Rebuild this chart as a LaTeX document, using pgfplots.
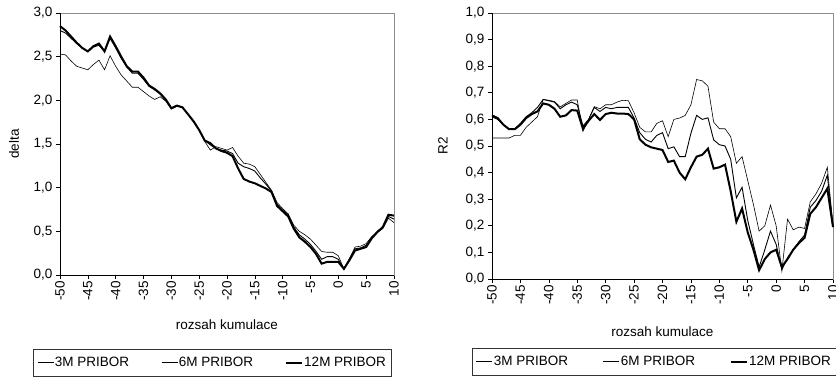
\documentclass[border=0pt]{standalone}
\usepackage{fontspec}
\setmainfont{Liberation Sans}
\usepackage{pgfplots}
\pgfplotsset{compat=1.18}
\usepackage{pgfplotstable}

\pgfplotstableread{
x a b c
-50 2.53 2.80 2.85
-49 2.52 2.77 2.80
-48 2.45 2.71 2.73
-47 2.39 2.65 2.66
-46 2.37 2.60 2.60
-45 2.35 2.56 2.56
-44 2.41 2.61 2.62
-43 2.46 2.63 2.65
-42 2.35 2.56 2.56
-41 2.51 2.71 2.73
-40 2.39 2.60 2.62
-39 2.29 2.48 2.50
-38 2.22 2.38 2.39
-37 2.15 2.31 2.33
-36 2.15 2.31 2.33
-35 2.10 2.24 2.26
-34 2.05 2.16 2.17
-33 2.01 2.12 2.13
-32 2.04 2.07 2.08
-31 1.99 2.00 2.01
-30 1.90 1.91 1.91
-29 1.93 1.94 1.94
-28 1.92 1.92 1.92
-27 1.84 1.84 1.84
-26 1.75 1.76 1.76
-25 1.66 1.66 1.66
-24 1.53 1.54 1.54
-23 1.43 1.49 1.51
-22 1.47 1.45 1.45
-21 1.45 1.43 1.42
-20 1.43 1.42 1.40
-19 1.46 1.39 1.36
-18 1.36 1.28 1.22
-17 1.28 1.24 1.10
-16 1.27 1.22 1.07
-15 1.24 1.19 1.05
-14 1.15 1.11 1.02
-13 1.06 1.04 0.99
-12 0.97 0.96 0.95
-11 0.83 0.81 0.79
-10 0.76 0.74 0.73
-9 0.70 0.69 0.67
-8 0.57 0.55 0.53
-7 0.50 0.46 0.43
-6 0.46 0.41 0.38
-5 0.41 0.35 0.32
-4 0.34 0.27 0.24
-3 0.27 0.18 0.13
-2 0.26 0.21 0.15
-1 0.26 0.21 0.15
0 0.22 0.18 0.15
1 0.07 0.07 0.07
2 0.19 0.18 0.17
3 0.32 0.30 0.28
4 0.33 0.31 0.30
5 0.36 0.34 0.32
6 0.44 0.43 0.42
7 0.49 0.50 0.49
8 0.53 0.55 0.55
9 0.65 0.67 0.69
10 0.60 0.64 0.68
}\deltatab

\pgfplotstableread{
x a b c
-50 0.530 0.610 0.615
-49 0.530 0.600 0.605
-48 0.530 0.580 0.580
-47 0.530 0.565 0.563
-46 0.540 0.565 0.563
-45 0.540 0.585 0.580
-44 0.570 0.610 0.605
-43 0.590 0.625 0.620
-42 0.610 0.645 0.630
-41 0.675 0.675 0.660
-40 0.672 0.670 0.655
-39 0.667 0.665 0.640
-38 0.647 0.640 0.610
-37 0.660 0.655 0.615
-36 0.673 0.665 0.635
-35 0.673 0.655 0.633
-34 0.555 0.575 0.565
-33 0.600 0.600 0.595
-32 0.648 0.645 0.620
-31 0.640 0.630 0.598
-30 0.655 0.645 0.620
-29 0.655 0.640 0.625
-28 0.665 0.645 0.622
-27 0.672 0.645 0.622
-26 0.670 0.645 0.620
-25 0.625 0.605 0.600
-24 0.570 0.550 0.525
-23 0.553 0.525 0.505
-22 0.553 0.515 0.495
-21 0.585 0.540 0.490
-20 0.595 0.550 0.485
-19 0.535 0.490 0.440
-18 0.600 0.497 0.445
-17 0.605 0.460 0.400
-16 0.615 0.460 0.375
-15 0.655 0.548 0.420
-14 0.750 0.615 0.460
-13 0.745 0.600 0.467
-12 0.725 0.606 0.490
-11 0.590 0.523 0.415
-10 0.565 0.505 0.420
-9 0.565 0.500 0.430
-8 0.535 0.450 0.330
-7 0.435 0.305 0.215
-6 0.460 0.345 0.265
-5 0.370 0.220 0.175
-4 0.280 0.130 0.110
-3 0.180 0.045 0.033
-2 0.200 0.110 0.075
-1 0.278 0.180 0.100
0 0.200 0.130 0.110
1 0.030 0.035 0.045
2 0.225 0.080 0.075
3 0.185 0.110 0.110
4 0.195 0.140 0.135
5 0.190 0.165 0.155
6 0.290 0.270 0.245
7 0.320 0.295 0.270
8 0.360 0.330 0.305
9 0.420 0.390 0.340
10 0.200 0.200 0.195
}\rtab

\pgfplotsset{
  common/.style={
    scale only axis,
    anchor=south west,
    xmin=-50, xmax=10,
    xtick={-50,-45,...,10},
    ymin=0,
    clip=false,
    axis line style={draw=black!45},
    tick style={black, line width=0.6pt},
    tick align=outside,
    major tick length=4pt,
    xtick pos=bottom, ytick pos=left,
    /pgf/number format/assume math mode=true,
    xticklabel style={rotate=90, anchor=east, inner sep=2pt},
    yticklabel style={/pgf/number format/.cd, fixed, fixed zerofill, precision=1, use comma},
    xlabel={rozsah kumulace},
    legend columns=3,
    legend cell align=left,
    legend image code/.code={\draw[##1] (0pt,0pt) -- (16pt,0pt);},
    after end axis/.code={
      \draw[black, line width=0.8pt] (rel axis cs:0,1) -- (rel axis cs:0,0) -- (rel axis cs:1,0);
    },
  },
  s3/.style={black, line width=0.6pt},
  s6/.style={black, line width=0.9pt},
  s12/.style={black, line width=2pt},
}

\begin{document}
\begin{tikzpicture}[font=\fontsize{13.5}{16}\selectfont]
\useasboundingbox (0,0) rectangle (836pt,380pt);

\begin{axis}[common,
  at={(60pt,105pt)}, width=334pt, height=262pt,
  ymax=3, ytick={0,0.5,...,3},
  ylabel={delta},
  every axis y label/.style={at={(axis description cs:0,0.5)}, xshift=-46pt, rotate=90, anchor=center},
  every axis x label/.style={at={(axis description cs:0.5,0)}, yshift=-50pt, anchor=center},
  legend style={at={(axis description cs:-0.0808,-0.2824)}, anchor=north west,
    draw=black!80, inner xsep=4pt, inner ysep=7pt,
    nodes={inner sep=1pt},
    /tikz/every even column/.append style={column sep=31pt}},
]
\addplot[s3] table[x=x,y=a] {\deltatab};
\addplot[s6] table[x=x,y=b] {\deltatab};
\addplot[s12] table[x=x,y=c] {\deltatab};
\legend{3M PRIBOR, 6M PRIBOR, 12M PRIBOR}
\end{axis}

\begin{axis}[common,
  at={(492pt,101pt)}, width=341pt, height=266pt,
  ymax=1, ytick={0,0.1,...,1.0},
  ylabel={R2},
  every axis y label/.style={at={(axis description cs:0,0.5)}, xshift=-49pt, rotate=90, anchor=center},
  every axis x label/.style={at={(axis description cs:0.5,0)}, yshift=-53pt, anchor=center},
  legend style={at={(axis description cs:-0.0587,-0.259)}, anchor=north west,
    draw=black!80, inner xsep=4pt, inner ysep=7pt,
    nodes={inner sep=1pt},
    /tikz/every even column/.append style={column sep=34pt}},
]
\addplot[s3] table[x=x,y=a] {\rtab};
\addplot[s6] table[x=x,y=b] {\rtab};
\addplot[s12] table[x=x,y=c] {\rtab};
\legend{3M PRIBOR, 6M PRIBOR, 12M PRIBOR}
\end{axis}
\end{tikzpicture}
\end{document}
